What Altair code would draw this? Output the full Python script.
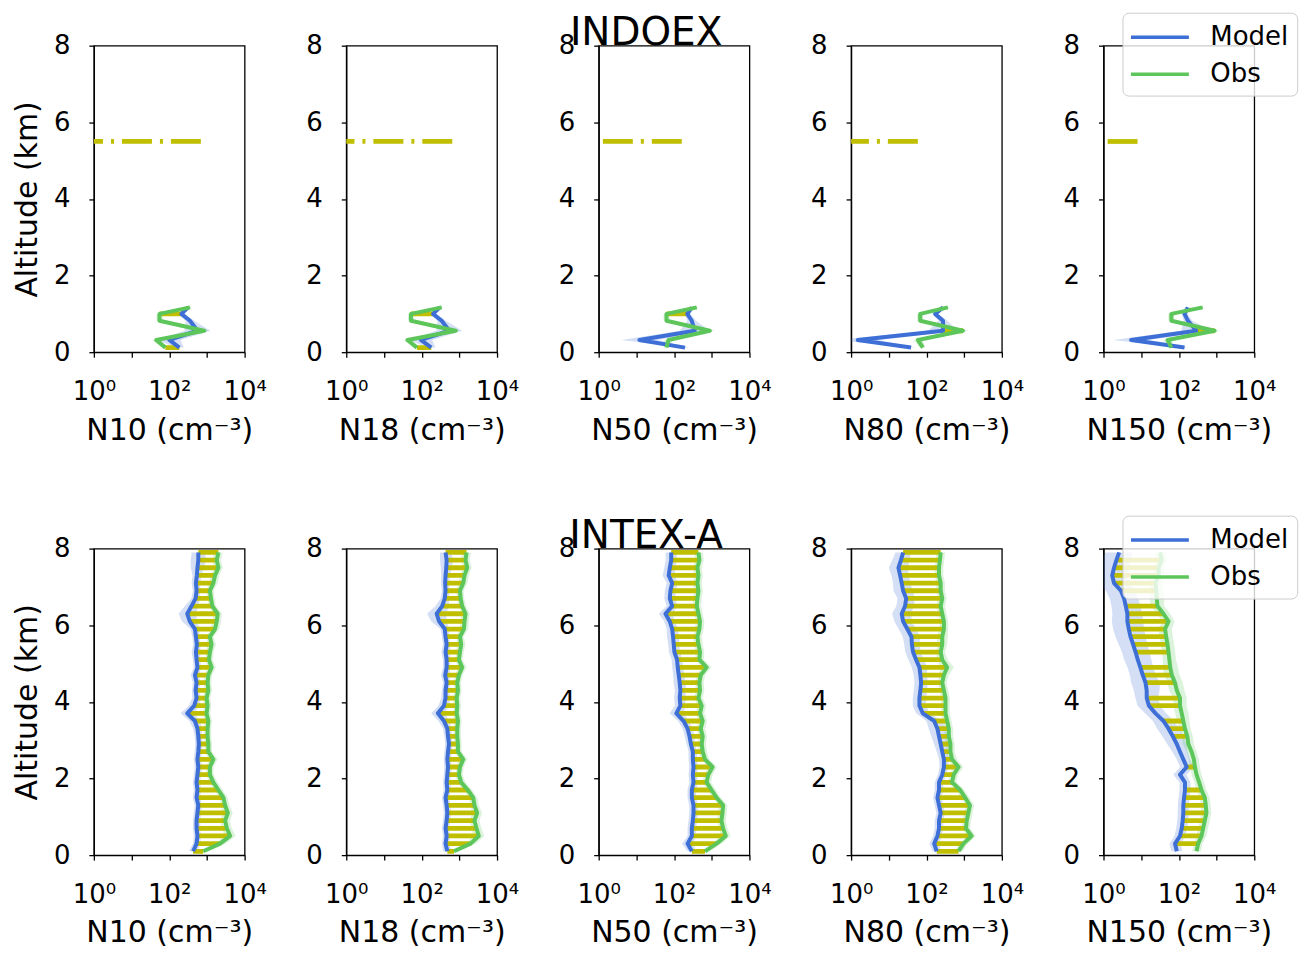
import altair as alt
import pandas as pd

# ---------------- data ----------------
VARS = ["N10", "N18", "N50", "N80", "N150"]
REGIONS = ["INDOEX", "INTEX-A"]

# INDOEX altitude levels (km)
IX_ALT = [0.12, 0.32, 0.56, 0.82, 1.0, 1.17]
IX_N10_MODEL = [186, 100, 560, 355, 209, 316]
IX_N10_OBS = [79, 45, 850, 55, 55, 355]
IX_N18_MODEL = [180, 95, 540, 340, 200, 300]
IX_N18_OBS = [75, 42, 800, 52, 52, 340]
IX_N50_MODEL = [195, 12, 355, 295, 224, 295]
IX_N50_OBS = [63, 71, 890, 63, 63, 400]
IX_N80_MODEL = [39, 1.5, 275, 275, 170, 275]
IX_N80_OBS = [80, 59, 930, 68, 68, 370]
IX_N150_MODEL = [141, 5.4, 288, 174, 141, 174]
IX_N150_OBS = [63, 50, 890, 63, 63, 427]
IX_N10_MSPREAD = [1.3, 2.0, 2.2, 1.3, 1.2, 1.2]
IX_N18_MSPREAD = [1.3, 2.0, 2.2, 1.3, 1.2, 1.2]
IX_N50_MSPREAD = [1.3, 3.0, 2.5, 1.3, 1.2, 1.2]
IX_N80_MSPREAD = [1.3, 3.5, 2.5, 1.3, 1.2, 1.2]
IX_N150_MSPREAD = [1.3, 3.0, 2.5, 1.3, 1.2, 1.2]
IX_OSPREAD = [1.2, 1.3, 1.4, 1.2, 1.2, 1.2]
IX_N10_BARS = [1, 0, 0, 0, 1, 0]
IX_N18_BARS = [1, 0, 0, 0, 1, 0]
IX_N50_BARS = [0, 0, 0, 0, 1, 0]
IX_N80_BARS = [0, 0, 1, 0, 0, 0]
IX_N150_BARS = [0, 0, 1, 0, 0, 0]
IX_DASH_ALT = 5.5
IX_DASH_START = 1
IX_DASH_END = [690, 650, 160, 59, 8]

# INTEX-A altitude levels (km)
IA_ALT = [0.1, 0.3, 0.5, 0.7, 0.9, 1.1, 1.3, 1.5, 1.7, 1.9,
          2.1, 2.3, 2.5, 2.7, 2.9, 3.1, 3.3, 3.5, 3.7, 3.9,
          4.1, 4.3, 4.5, 4.7, 4.9, 5.1, 5.3, 5.5, 5.7, 5.9,
          6.1, 6.3, 6.5, 6.7, 6.9, 7.1, 7.3, 7.5, 7.7, 7.9]
IA_N10_MODEL = [430, 530, 560, 530, 530, 560, 590, 530, 560, 530,
                560, 590, 560, 590, 610, 590, 560, 480, 300, 460,
                530, 500, 530, 480, 560, 530, 510, 540, 510, 480,
                350, 300, 390, 500, 530, 510, 540, 560, 590, 590]
IA_N10_OBS = [800, 2230, 4130, 3370, 3040, 3580, 3040, 2740, 2010, 1480,
              1200, 1200, 1480, 1090, 1090, 1040, 1040, 1090, 980, 1040,
              980, 1090, 1040, 1090, 1330, 1130, 1200, 1330, 1200, 1640,
              1820, 1930, 1390, 1280, 1200, 1480, 1640, 2010, 1820, 2010]
IA_N18_MODEL = [480, 430, 460, 430, 460, 480, 460, 430, 480, 460,
                480, 500, 480, 500, 530, 500, 480, 390, 270, 390,
                430, 430, 460, 420, 460, 460, 430, 460, 430, 410,
                290, 250, 350, 410, 430, 420, 430, 450, 460, 430]
IA_N18_OBS = [720, 1980, 3280, 2850, 2520, 2970, 2520, 2330, 1680, 1120,
              975, 1040, 1270, 920, 920, 880, 880, 920, 850, 880,
              850, 920, 880, 975, 1190, 975, 1040, 1120, 1040, 1320,
              1370, 1460, 1190, 1080, 1040, 1270, 1370, 1620, 1460, 1550]
IA_N50_MODEL = [296, 228, 296, 296, 315, 328, 328, 296, 296, 328,
                315, 328, 315, 315, 279, 257, 228, 179, 115, 147,
                141, 147, 141, 133, 125, 120, 102, 98, 94, 89,
                77, 59, 89, 77, 80, 89, 72, 77, 84, 84]
IA_N50_OBS = [662, 1340, 2350, 2000, 1810, 1920, 2000, 1340, 990, 732,
              809, 1050, 662, 575, 542, 575, 510, 575, 489, 542,
              443, 489, 470, 510, 732, 470, 489, 443, 417, 470,
              489, 443, 401, 417, 443, 417, 443, 417, 470, 443]
IA_N80_MODEL = [187, 160, 195, 215, 215, 238, 215, 195, 215, 215,
                262, 290, 290, 262, 238, 215, 195, 160, 80, 65,
                65, 69, 72, 69, 65, 53, 44, 41, 40, 31,
                24, 22, 27, 29, 24, 22, 20, 18, 21, 24]
IA_N80_OBS = [710, 957, 1570, 1120, 1170, 1290, 1420, 1060, 784, 477,
              527, 710, 477, 432, 432, 391, 391, 354, 320, 320,
              320, 290, 262, 290, 354, 262, 238, 262, 262, 290,
              290, 262, 238, 262, 238, 238, 215, 215, 228, 238]
IA_N150_MODEL = [88, 79, 107, 119, 126, 131, 131, 137, 145, 145,
                 107, 161, 131, 107, 88, 69, 53, 39, 24, 16,
                 14, 14, 13, 11, 9.5, 8.1, 7.1, 6.1, 5.2, 4.7,
                 4.3, 4.3, 3.9, 3.5, 2.9, 1.9, 1.7, 1.9, 2.2, 2.6]
IA_N150_OBS = [294, 325, 398, 440, 487, 538, 517, 487, 398, 345,
               294, 266, 250, 217, 178, 167, 145, 131, 119, 107,
               107, 88, 79, 65, 59, 56, 53, 50, 46, 43,
               53, 39, 27, 26, 25, 24, 29, 29, 35, 32]
IA_N10_MSPREAD = [1.3, 1.25, 1.25, 1.25, 1.25, 1.25, 1.25, 1.25, 1.25, 1.25,
                  1.25, 1.25, 1.25, 1.25, 1.25, 1.25, 1.3, 1.4, 1.5, 1.4,
                  1.3, 1.25, 1.25, 1.3, 1.25, 1.25, 1.3, 1.25, 1.25, 1.3,
                  1.6, 1.7, 1.5, 1.3, 1.25, 1.3, 1.3, 1.5, 1.6, 1.5]
IA_N10_OSPREAD = [1.3, 1.4, 1.4, 1.35, 1.35, 1.35, 1.3, 1.3, 1.3, 1.3,
                  1.25, 1.25, 1.3, 1.25, 1.25, 1.25, 1.25, 1.25, 1.25, 1.25,
                  1.25, 1.25, 1.25, 1.25, 1.3, 1.25, 1.25, 1.3, 1.25, 1.3,
                  1.3, 1.3, 1.25, 1.25, 1.25, 1.3, 1.3, 1.3, 1.3, 1.3]
IA_N18_MSPREAD = [1.3, 1.25, 1.25, 1.25, 1.25, 1.25, 1.25, 1.25, 1.25, 1.25,
                  1.25, 1.25, 1.25, 1.25, 1.25, 1.25, 1.3, 1.4, 1.5, 1.4,
                  1.3, 1.25, 1.25, 1.3, 1.25, 1.25, 1.3, 1.25, 1.25, 1.3,
                  1.6, 1.8, 1.5, 1.3, 1.25, 1.3, 1.3, 1.4, 1.5, 1.4]
IA_N18_OSPREAD = [1.3, 1.4, 1.4, 1.35, 1.35, 1.35, 1.3, 1.3, 1.3, 1.3,
                  1.25, 1.25, 1.3, 1.25, 1.25, 1.25, 1.25, 1.25, 1.25, 1.25,
                  1.25, 1.25, 1.25, 1.25, 1.3, 1.25, 1.25, 1.3, 1.25, 1.3,
                  1.3, 1.3, 1.25, 1.25, 1.25, 1.3, 1.3, 1.3, 1.3, 1.3]
IA_N50_MSPREAD = [1.3, 1.4, 1.3, 1.3, 1.3, 1.3, 1.3, 1.3, 1.3, 1.3,
                  1.3, 1.3, 1.3, 1.3, 1.3, 1.35, 1.35, 1.4, 1.5, 1.4,
                  1.4, 1.4, 1.45, 1.4, 1.4, 1.4, 1.4, 1.4, 1.45, 1.4,
                  1.4, 1.5, 1.4, 1.4, 1.4, 1.4, 1.45, 1.4, 1.4, 1.4]
IA_N50_OSPREAD = [1.3, 1.35, 1.35, 1.3, 1.3, 1.3, 1.3, 1.3, 1.3, 1.3,
                  1.3, 1.3, 1.3, 1.3, 1.3, 1.3, 1.3, 1.3, 1.3, 1.3,
                  1.3, 1.3, 1.3, 1.3, 1.35, 1.3, 1.3, 1.3, 1.3, 1.3,
                  1.3, 1.3, 1.3, 1.3, 1.3, 1.3, 1.3, 1.3, 1.3, 1.3]
IA_N80_MSPREAD = [1.3, 1.35, 1.3, 1.3, 1.3, 1.3, 1.3, 1.3, 1.3, 1.3,
                  1.3, 1.3, 1.35, 1.4, 1.5, 1.6, 1.7, 1.6, 1.5, 1.5,
                  1.5, 1.5, 1.5, 1.5, 1.6, 1.6, 1.6, 1.6, 1.7, 1.7,
                  1.7, 1.8, 1.7, 1.7, 1.8, 1.7, 1.7, 1.8, 1.7, 1.6]
IA_N80_OSPREAD = [1.3, 1.3, 1.3, 1.3, 1.3, 1.3, 1.3, 1.3, 1.3, 1.3,
                  1.3, 1.35, 1.35, 1.3, 1.3, 1.3, 1.3, 1.3, 1.3, 1.3,
                  1.3, 1.3, 1.3, 1.35, 1.5, 1.4, 1.3, 1.35, 1.4, 1.3,
                  1.3, 1.3, 1.3, 1.3, 1.3, 1.3, 1.3, 1.3, 1.3, 1.3]
IA_N150_MSPREAD = [1.4, 1.4, 1.4, 1.4, 1.4, 1.4, 1.4, 1.4, 1.4, 1.4,
                   1.5, 1.5, 1.5, 1.6, 1.8, 1.9, 2.0, 1.9, 1.9, 2.0,
                   2.0, 2.2, 2.4, 2.2, 2.2, 2.3, 2.3, 2.4, 2.5, 2.6,
                   2.6, 2.5, 2.4, 2.4, 2.5, 2.6, 2.5, 2.5, 2.4, 2.3]
IA_N150_OSPREAD = [1.3, 1.3, 1.35, 1.35, 1.35, 1.35, 1.35, 1.35, 1.35, 1.35,
                   1.35, 1.35, 1.35, 1.35, 1.4, 1.4, 1.4, 1.45, 1.5, 1.5,
                   1.5, 1.6, 1.6, 1.6, 1.6, 1.5, 1.5, 1.5, 1.5, 1.5,
                   1.45, 1.5, 1.5, 1.55, 1.5, 1.5, 1.45, 1.4, 1.4, 1.4]
IA_ALL_BARS = [1] * 40
IA_N150_BARS = [0, 1, 1, 1, 1, 1, 1, 1, 1, 0,
                0, 1, 0, 0, 0, 1, 1, 1, 0, 1,
                1, 0, 1, 1, 1, 0, 1, 1, 1, 1,
                1, 1, 1, 0, 1, 1, 1, 1, 1, 0]

X_TICKS = [1, 10, 100, 1000, 10000]
Y_TICKS = [0, 2, 4, 6, 8]

# ---------------- style ----------------
BLUE = "#3d6fd6"
GREEN = "#5cc65a"
YELLOW = "#bfbf00"
FONT = "DejaVu Sans"
PW, PH = 151, 307


def make_panel(var, alts, model, obs, msp, osp, bars, show_ytitle, show_legend,
               title=None, dash_end=None):
    df = pd.DataFrame({"alt": alts, "Model": model, "Obs": obs,
                       "msp": msp, "osp": osp, "bar": bars})
    df["m_lo"] = df["Model"] / df["msp"]
    df["m_hi"] = df["Model"] * df["msp"]
    df["o_lo"] = df["Obs"] / df["osp"]
    df["o_hi"] = df["Obs"] * df["osp"]

    xs = alt.Scale(type="log", domain=[1, 10000], nice=False)
    ys = alt.Scale(domain=[0, 8], nice=False)
    xax = alt.Axis(values=X_TICKS, grid=False, labelFlush=False, labelOverlap=False,
                   labelExpr="datum.value == 1 ? '10⁰' : datum.value == 100 ? '10²' : datum.value == 10000 ? '10⁴' : ''",
                   title=f"{var} (cm⁻³)")
    yax = alt.Axis(values=Y_TICKS, grid=False, format="d", labelFlush=False,
                   title="Altitude (km)" if show_ytitle else None)

    def X(f):
        return alt.X(f, type="quantitative", scale=xs, axis=xax)

    def Y():
        return alt.Y("alt", type="quantitative", scale=ys, axis=yax)

    base = alt.Chart(df)
    mband = base.mark_area(orient="horizontal", color=BLUE, opacity=0.22, clip=True).encode(
        y=Y(), x=X("m_lo"), x2="m_hi")
    oband = base.mark_area(orient="horizontal", color=GREEN, opacity=0.22, clip=True).encode(
        y=Y(), x=X("o_lo"), x2="o_hi")
    barl = base.transform_filter("datum.bar == 1").mark_rule(
        color=YELLOW, strokeWidth=4.8, clip=True).encode(y=Y(), x=X("Model"), x2="Obs")

    if show_legend:
        leg = alt.Legend(orient="none", legendX=19, legendY=-33, title=None,
                         symbolType="M-2,0H2", symbolSize=841, symbolStrokeWidth=3.5,
                         symbolOffset=13, labelOffset=34, labelFont=FONT,
                         labelFontSize=26, labelColor="black",
                         fillColor="rgba(255,255,255,0.8)", strokeColor="#cccccc",
                         cornerRadius=6, padding=8, rowPadding=7)
    else:
        leg = None
    lines = base.transform_fold(["Model", "Obs"], as_=["series", "val"]).mark_line(
        strokeWidth=4, strokeJoin="round", clip=True).encode(
        y=Y(), x=X("val"),
        color=alt.Color("series:N", scale=alt.Scale(domain=["Model", "Obs"], range=[BLUE, GREEN]),
                        legend=leg),
        order=alt.Order("alt:Q"))

    layers = [mband, oband, barl]
    if dash_end is not None:
        ddf = pd.DataFrame({"alt": [IX_DASH_ALT], "x_end": [dash_end], "x_start": [IX_DASH_START]})
        dash = alt.Chart(ddf).mark_rule(color=YELLOW, strokeWidth=4.8, strokeDash=[30, 8, 3, 8]).encode(
            y=Y(), x=X("x_end"), x2="x_start")
        layers.append(dash)
    layers.append(lines)

    props = dict(width=PW, height=PH)
    if title is not None:
        props["title"] = alt.TitleParams(text=title, fontSize=39, font=FONT, fontWeight="normal",
                                         color="black", anchor="middle", frame="group",
                                         dx=-28, offset=-20)
    return alt.layer(*layers).properties(**props)


IX = [
    (IX_N10_MODEL, IX_N10_OBS, IX_N10_MSPREAD, IX_N10_BARS),
    (IX_N18_MODEL, IX_N18_OBS, IX_N18_MSPREAD, IX_N18_BARS),
    (IX_N50_MODEL, IX_N50_OBS, IX_N50_MSPREAD, IX_N50_BARS),
    (IX_N80_MODEL, IX_N80_OBS, IX_N80_MSPREAD, IX_N80_BARS),
    (IX_N150_MODEL, IX_N150_OBS, IX_N150_MSPREAD, IX_N150_BARS),
]
IA = [
    (IA_N10_MODEL, IA_N10_OBS, IA_N10_MSPREAD, IA_N10_OSPREAD, IA_ALL_BARS),
    (IA_N18_MODEL, IA_N18_OBS, IA_N18_MSPREAD, IA_N18_OSPREAD, IA_ALL_BARS),
    (IA_N50_MODEL, IA_N50_OBS, IA_N50_MSPREAD, IA_N50_OSPREAD, IA_ALL_BARS),
    (IA_N80_MODEL, IA_N80_OBS, IA_N80_MSPREAD, IA_N80_OSPREAD, IA_ALL_BARS),
    (IA_N150_MODEL, IA_N150_OBS, IA_N150_MSPREAD, IA_N150_OSPREAD, IA_N150_BARS),
]

panels = []
for i, var in enumerate(VARS):
    m, o, ms, b = IX[i]
    panels.append(make_panel(var, IX_ALT, m, o, ms, IX_OSPREAD, b,
                             show_ytitle=(i == 0), show_legend=(i == 4),
                             title=REGIONS[0] if i == 2 else None,
                             dash_end=IX_DASH_END[i]))
for i, var in enumerate(VARS):
    m, o, ms, os_, b = IA[i]
    panels.append(make_panel(var, IA_ALT, m, o, ms, os_, b,
                             show_ytitle=(i == 0), show_legend=(i == 4),
                             title=REGIONS[1] if i == 2 else None))

chart = alt.concat(*panels, columns=5, spacing={"row": 196.7, "column": 101.8},
                   bounds="flush").resolve_scale(color="independent").properties(
    padding={"left": 3, "top": 2, "right": 2, "bottom": 2}
).configure_view(stroke="black", strokeWidth=1.3).configure_axis(
    labelFont=FONT, titleFont=FONT, labelFontSize=26, titleFontSize=30,
    titleFontWeight="normal", labelColor="black", titleColor="black",
    domainColor="black", domainWidth=1.3, tickColor="black", tickWidth=1.3, tickSize=5
).configure_axisX(labelPadding=21, titlePadding=11).configure_axisY(labelPadding=19, titlePadding=11)

chart.save("out.html", embed_options={"renderer": "svg", "actions": False})
